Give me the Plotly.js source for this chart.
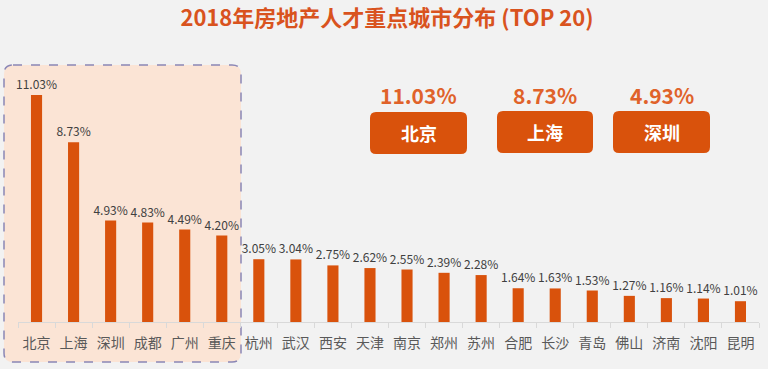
<!DOCTYPE html>
<html><head><meta charset="utf-8">
<script src="https://cdn.plot.ly/plotly-3.0.1.min.js"></script>
<style>html,body{margin:0;padding:0;background:#f2f2f2;}#chart{width:768px;height:369px;}</style>
</head><body><div id="chart"></div>
<script>
const cities = ['北京','上海','深圳','成都','广州','重庆','杭州','武汉','西安','天津','南京','郑州','苏州','合肥','长沙','青岛','佛山','济南','沈阳','昆明'];
const shares = [11.03,8.73,4.93,4.83,4.49,4.20,3.05,3.04,2.75,2.62,2.55,2.39,2.28,1.64,1.63,1.53,1.27,1.16,1.14,1.01];
const topCities = ['北京','上海','深圳'];
const topShares = [11.03,8.73,4.93];
const titleText = '2018年房地产人才重点城市分布 (TOP 20)';

const W=768,H=369,ML=18,MR=9,MT=75,MB=47;
const PW=W-ML-MR, PH=H-MT-MB, BASE=H-MB;
const px = x => (x-ML)/PW;
const py = y => (BASE-y)/PH;
function rr(x0,y0,x1,y1,r){
  return `M ${px(x0+r)},${py(y0)} L ${px(x1-r)},${py(y0)} Q ${px(x1)},${py(y0)} ${px(x1)},${py(y0+r)} `+
         `L ${px(x1)},${py(y1-r)} Q ${px(x1)},${py(y1)} ${px(x1-r)},${py(y1)} `+
         `L ${px(x0+r)},${py(y1)} Q ${px(x0)},${py(y1)} ${px(x0)},${py(y1-r)} `+
         `L ${px(x0)},${py(y0+r)} Q ${px(x0)},${py(y0)} ${px(x0+r)},${py(y0)} Z`;
}
const FONT = '"Noto Sans CJK SC", "Noto Sans", sans-serif';
const ORANGE = '#d9520c';

const boxes = [[370,112,467,154],[497,111,593,153],[613,111,710,153]];
const shapes = [{
  type:'path', xref:'paper', yref:'paper', layer:'below',
  path: rr(4,65,241,362,9),
  fillcolor:'#fbe4d5', line:{color:'#8a86b5', width:1.5, dash:'dash'}
}];
const annotations = [];
boxes.forEach((b,i)=>{
  shapes.push({type:'path', xref:'paper', yref:'paper', path: rr(b[0],b[1],b[2],b[3],6),
    fillcolor:ORANGE, line:{color:ORANGE, width:0}});
  const cx=(b[0]+b[2])/2;
  annotations.push({xref:'paper', yref:'paper', x:px(cx), y:py((b[1]+b[3])/2), xanchor:'center', yanchor:'middle',
    text:'<b>'+topCities[i]+'</b>', showarrow:false, font:{family:FONT, size:18, color:'#ffffff'}});
  annotations.push({xref:'paper', yref:'paper', x:px(cx), y:py(95), xanchor:'center', yanchor:'middle',
    text:'<b>'+topShares[i].toFixed(2)+'%</b>', showarrow:false, font:{family:FONT, size:21, color:'#e0622a'}});
});

const trace = {
  type:'bar', x:cities, y:shares,
  marker:{color:ORANGE},
  text: shares.map(v=>v.toFixed(2)+'%'),
  textposition:'outside', textangle:0, constraintext:'none', cliponaxis:false,
  textfont:{family:FONT, size:12, color:'#404040'},
  hoverinfo:'none'
};
const layout = {
  width:W, height:H,
  margin:{l:ML, r:MR, t:MT, b:MB, pad:0},
  paper_bgcolor:'#f2f2f2', plot_bgcolor:'rgba(0,0,0,0)',
  bargap:0.7, showlegend:false,
  title:{text:'<b>'+titleText+'</b>', xref:'container', yref:'container', x:387/W, y:1-18/H,
    xanchor:'center', yanchor:'middle', font:{family:FONT, size:22, color:'#d9531e'}},
  xaxis:{type:'category', range:[-0.5,19.5], showline:true, linecolor:'#d9d9d9', linewidth:1,
    ticks:'outside', tickson:'boundaries', ticklen:5, tickcolor:'#d9d9d9', ticklabelstandoff:8,
    tickfont:{family:FONT, size:14, color:'#595959'}, showgrid:false, fixedrange:true},
  yaxis:{range:[0,12], visible:false, showgrid:false, zeroline:false},
  shapes, annotations
};
Plotly.newPlot('chart',[trace],layout,{displayModeBar:false, staticPlot:true});
</script></body></html>
